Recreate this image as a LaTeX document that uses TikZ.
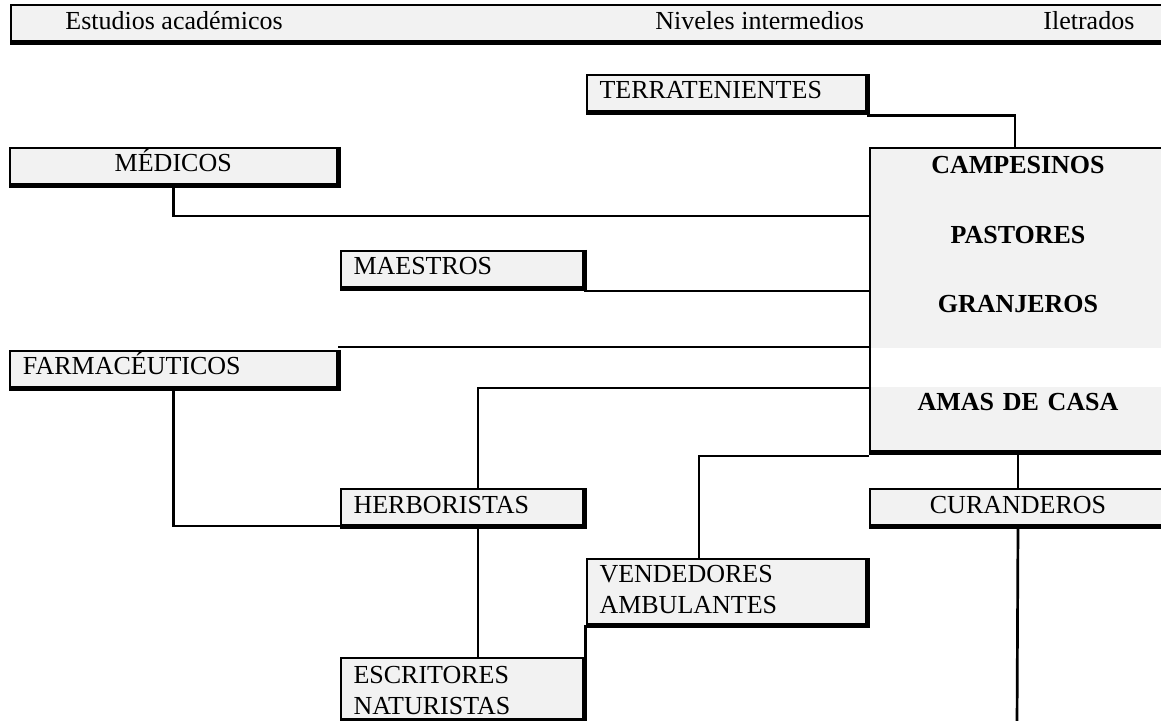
\documentclass[tikz,border=0pt]{standalone}
\usepackage{fontspec}
\setmainfont{Liberation Serif}
\usepackage{tikz}
\definecolor{boxgray}{HTML}{F2F2F2}
\tikzset{every node/.style={font=\fontsize{13pt}{15.5pt}\selectfont},
    shadowbox/.style={draw, line width=1pt, fill=boxgray, anchor=north west,
        inner xsep=6.5pt, inner ysep=0pt, text height=12pt, text depth=6pt,
        append after command={\pgfextra{\draw[line width=3pt]
            (\tikzlastnode.north east) -- (\tikzlastnode.south east) -- (\tikzlastnode.south west);}}},
    leftbox/.style={shadowbox, text width=#1, align=left},
    midbox/.style={shadowbox, text width=#1, align=center},
    link/.style={line width=1.35pt},
    toplabel/.style={anchor=base west, inner sep=0pt},
    }

\begin{document}
\begin{tikzpicture}[x=0.5pt, y=-0.5pt]
	\useasboundingbox (0,0) rectangle (1161,721);
	% cabecera
	\node[shadowbox, minimum width=577.75pt] (header) at (9.5,4) {};
	\node[toplabel] (academicos) at (65,30) {Estudios académicos};
	\node[toplabel] (intermedios) at (655,30) {Niveles intermedios};
	\node[toplabel] (iletrados) at (1043,30) {Iletrados};
	% cajas
	\node[leftbox=126.5pt] (terratenientes) at (585.5,74) {TERRATENIENTES};
	\node[midbox=150.75pt] (medicos) at (8.5,147) {MÉDICOS};
	\node[leftbox=108.25pt] (maestros) at (339.5,250) {MAESTROS};
	\node[leftbox=150.5pt] (farmaceuticos) at (9,350) {FARMACÉUTICOS};
	\node[leftbox=108.25pt] (herboristas) at (339.5,488) {HERBORISTAS};
	\node[midbox=135pt] (curanderos) at (869,488) {CURANDEROS};
	\node[leftbox=126.5pt, text height=11.5pt, text depth=21pt] (vendedores) at (585.5,558) {VENDEDORES\\AMBULANTES};
	\node[leftbox=108.25pt, text height=12.5pt, text depth=18pt] (escritores) at (339.5,657) {ESCRITORES\\NATURISTAS};
	\node[midbox=148pt, inner xsep=0pt, text height=13pt, text depth=138.5pt,
		font=\fontsize{13pt}{15.5pt}\selectfont\bfseries] (campesinos) at (869,147)
		{CAMPESINOS\\[19.25pt]PASTORES\\[19.25pt]GRANJEROS\\[33.5pt]AMAS DE CASA};
	\fill[white] (870.5,348) rectangle (1170,387);
	% lineas
	\draw[link] ([shift={(0,3.5)}]terratenientes.south east) -| ([shift={(-3,0)}]campesinos.north);
	\draw[link] (medicos.south) |- ([shift={(0,69)}]campesinos.north west);
	\draw[link] ([shift={(0,3)}]maestros.south east) coordinate (maeOut) -- (maeOut -| campesinos.west);
	\draw[link] ([shift={(0,-3)}]farmaceuticos.north east) coordinate (farOut) -- (farOut -| campesinos.west);
	\draw[link] ([shift={(138.5,0)}]herboristas.north west) |- ([shift={(0,241)}]campesinos.north west);
	\draw[link] (farmaceuticos.south) |- (herboristas.south west);
	\draw[link] ([shift={(138.5,0)}]herboristas.south west) -- ([shift={(138.5,0)}]escritores.north west);
	\draw[link] (campesinos.south) -- (curanderos.north);
	\coordinate (curEnd) at (1017,725);
	\draw[link] (curanderos.south) -- (curEnd);
	\draw[link] ([shift={(113.5,0)}]vendedores.north west) |- ([shift={(0,4)}]campesinos.south west);
	\draw[link] (vendedores.south west) -- (vendedores.south west |- escritores.north);
\end{tikzpicture}
\end{document}
